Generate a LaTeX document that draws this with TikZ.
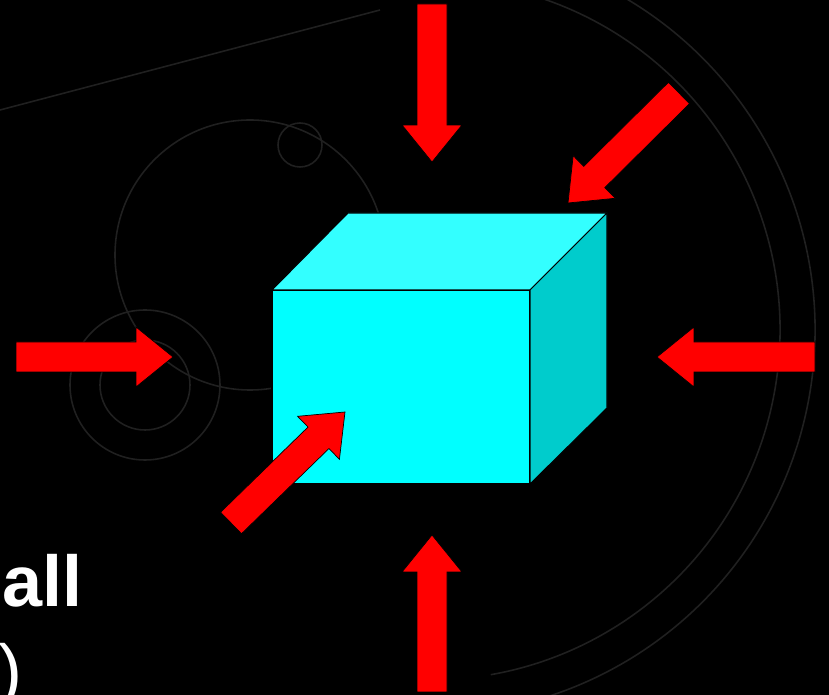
\documentclass[tikz,border=0pt]{standalone}
\usepackage{fontspec}
\setmainfont{Liberation Sans}
\usetikzlibrary{calc}
\definecolor{cFront}{HTML}{00FFFF}
\definecolor{cTop}{HTML}{33FFFF}
\definecolor{cSide}{HTML}{00CCCC}
\definecolor{cPush}{HTML}{FF0000}
\definecolor{cEtch}{HTML}{202020}
\tikzset{
  face/.style={draw=black, line width=0.6pt, line join=round},
  push/.style={fill=cPush, draw=black, line width=0.4pt, line join=miter},
  etch/.style={draw=cEtch, line width=0.9pt},
  bigtxt/.style={text=white, inner sep=0pt, font=\fontsize{41}{48}\selectfont},
  bigbold/.style={bigtxt, font=\fontsize{41}{48}\selectfont\bfseries},
}
% block arrow from tail #1 to tip #2
\newcommand{\pusharrow}[2]{%
  \path ($(#2)!0.74cm!(#1)$) coordinate (hb);
  \draw[push] ($(#1)!0.3cm!90:(#2)$) -- ($(hb)!0.3cm!90:(#2)$)
    -- ($(hb)!0.6cm!90:(#2)$) -- (#2) -- ($(hb)!0.6cm!-90:(#2)$)
    -- ($(hb)!0.3cm!-90:(#2)$) -- ($(#1)!0.3cm!-90:(#2)$) -- cycle;}

\begin{document}
\begin{tikzpicture}[x=0.02cm, y=-0.02cm]
  \useasboundingbox (0,0) rectangle (829,695);
  \fill[black] (0,0) rectangle (829,695);

  % faint engraving in the background
  \draw[etch] (145,385) circle (45);
  \draw[etch] (145,385) circle (75);
  \draw[etch] (250,255) circle (135);
  \draw[etch] (300,145) circle (22);
  \draw[etch] (0,110) -- (380,10);
  \draw[etch] (430,330) ++(-75:385) arc (-75:80:385);
  \draw[etch] (430,330) ++(-75:350) arc (-75:80:350);

  % the box
  \coordinate (fbl) at (272,484);
  \coordinate (fbr) at (530,484);
  \coordinate (ftr) at (530,290);
  \coordinate (ftl) at (272,290);
  \coordinate (btl) at (348,213);
  \coordinate (btr) at (607,213);
  \coordinate (bbr) at (607,408);
  \draw[face, fill=cFront] (fbl) -- (fbr) -- (ftr) -- (ftl) -- cycle;
  \draw[face, fill=cTop] (ftl) -- (ftr) -- (btr) -- (btl) -- cycle;
  \draw[face, fill=cSide] (fbr) -- (bbr) -- (btr) -- (ftr) -- cycle;

  % pressure from all sides
  \coordinate (topTail) at (432,4);    \coordinate (topTip) at (432,162);
  \coordinate (botTail) at (432,692);  \coordinate (botTip) at (432,535);
  \coordinate (lftTail) at (16,357);   \coordinate (lftTip) at (173,357);
  \coordinate (rgtTail) at (815,357);  \coordinate (rgtTip) at (657,357);
  \coordinate (trTail) at (679,93);    \coordinate (trTip) at (568,203);
  \coordinate (blTail) at (231,523);   \coordinate (blTip) at (345,412);
  \pusharrow{topTail}{topTip}
  \pusharrow{botTail}{botTip}
  \pusharrow{lftTail}{lftTip}
  \pusharrow{rgtTail}{rgtTip}
  \pusharrow{trTail}{trTip}
  \pusharrow{blTail}{blTip}

  \node[bigbold, anchor=base west] (lblAll) at (2,607) {all};
  \node[bigtxt, anchor=base west] (lblParen) at (-2,696) {)};
\end{tikzpicture}
\end{document}
